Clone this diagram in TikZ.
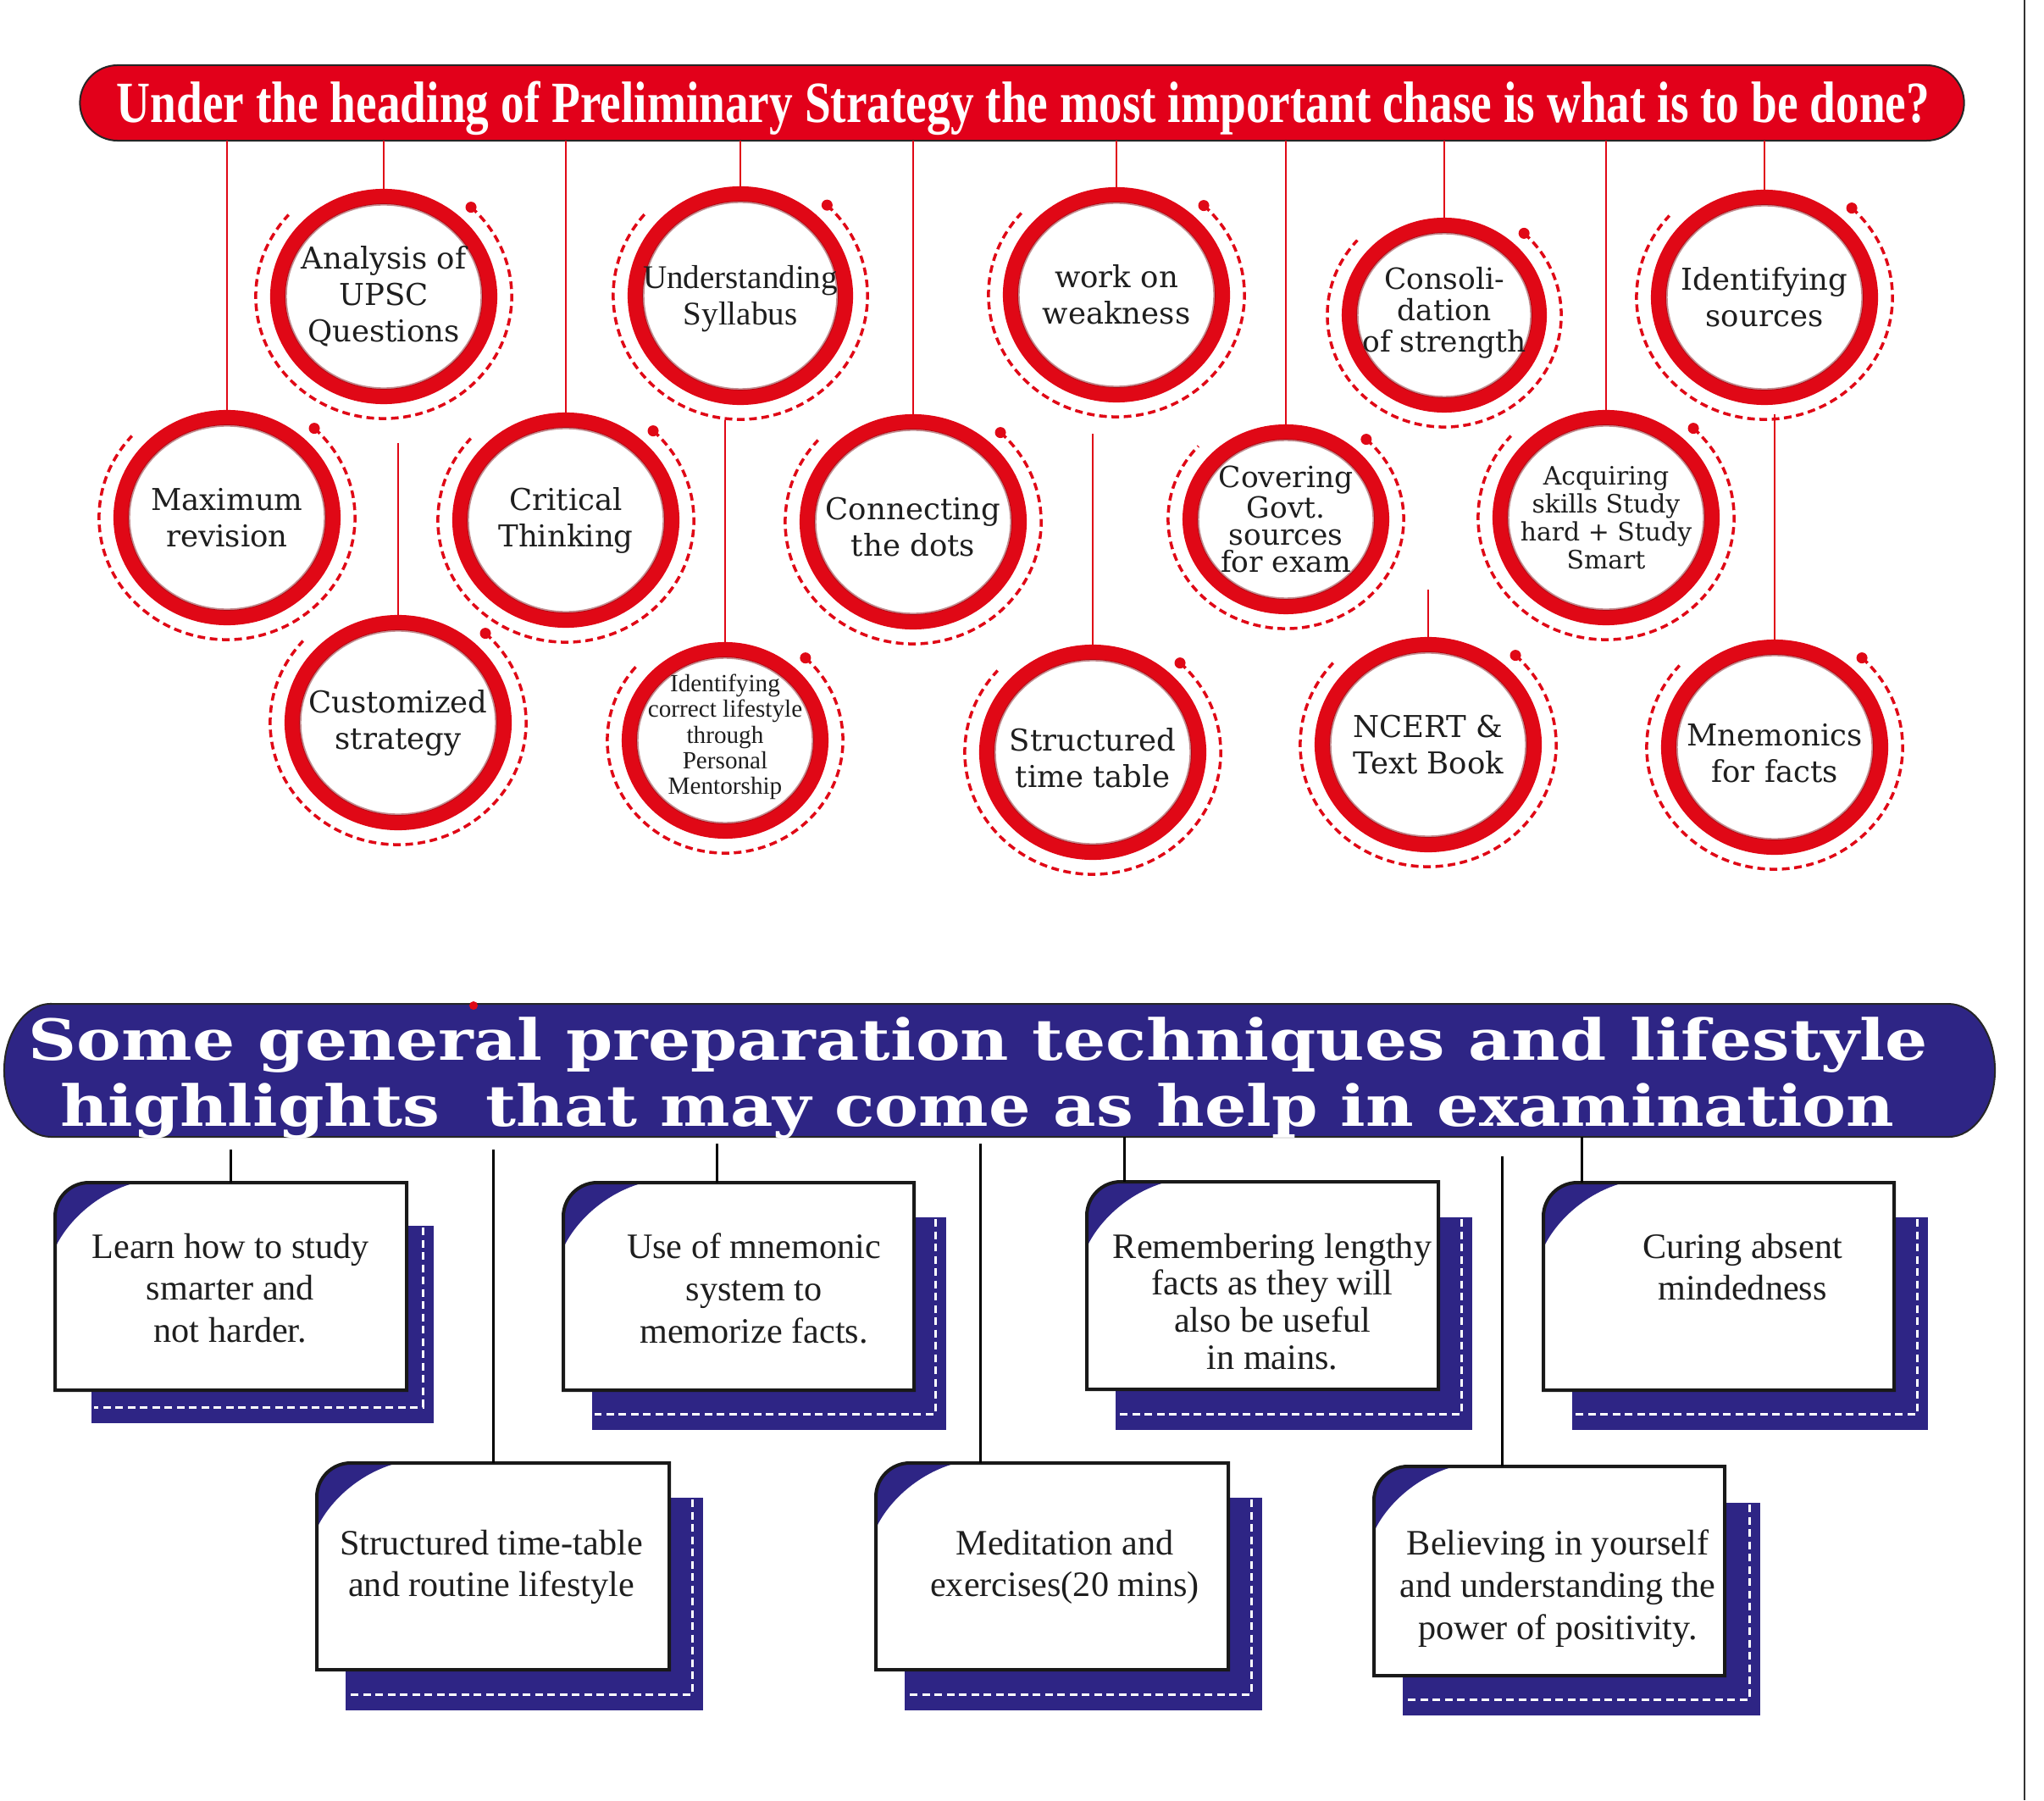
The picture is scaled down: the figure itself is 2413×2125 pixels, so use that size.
\documentclass[tikz,border=0pt]{standalone}
\usepackage{fontspec}
\usepackage{graphicx}
\usetikzlibrary{shapes.geometric,shapes.misc}
\newfontfamily\circF{DejaVu Serif}
\newfontfamily\narF{Liberation Serif}
\newfontfamily\hdF{Liberation Serif}
\newfontfamily\hdG{DejaVu Serif}
\definecolor{hdrred}{RGB}{226,0,26}
\definecolor{ringred}{RGB}{224,8,22}
\definecolor{navyc}{RGB}{46,37,133}
\definecolor{textc}{RGB}{30,30,30}
\tikzset{
 ringnode/.style={ellipse, draw=ringred, fill=white, line width=0.18cm, inner sep=0pt, outer sep=0pt},
 ringshade/.style={draw=ringred!55!black, line width=0.025cm, opacity=0.45},
 dashring/.style={draw=ringred, line width=0.035cm, dash pattern=on 0.09cm off 0.055cm},
 redline/.style={draw=ringred, line width=0.025cm},
 blkline/.style={draw=black, line width=0.03cm},
 ctext/.style={align=center, text=textc, inner sep=0pt, font={\circF\fontsize{10.1pt}{12.2pt}\selectfont}},
 ntext/.style={align=center, text=textc, inner sep=0pt, font={\narF\fontsize{11.1pt}{12.2pt}\selectfont}},
 cardnode/.style={rectangle, inner sep=0pt, outer sep=0pt, draw=none},
 cardline/.style={draw=black!90, line width=0.04cm, line join=miter},
 wdash/.style={draw=white, line width=0.03cm, dash pattern=on 0.09cm off 0.055cm},
 cardtext/.style={align=center, text=textc, inner sep=0pt, anchor=north, font={\narF\fontsize{12pt}{14.2pt}\selectfont}},
}
% name, x, y, outer rx (cm), outer ry (cm), text style, text
\newcommand\ringc[7]{%
  \pgfmathsetlengthmacro\ringmw{2*#4cm-0.18cm}%
  \pgfmathsetlengthmacro\ringmh{2*#5cm-0.18cm}%
  \pgfmathsetlengthmacro\ringrxd{#4cm+0.17cm}%
  \pgfmathsetlengthmacro\ringryd{#5cm+0.17cm}%
  \pgfmathsetlengthmacro\ringrxi{#4cm-0.185cm}%
  \pgfmathsetlengthmacro\ringryi{#5cm-0.185cm}%
  \node[ringnode, minimum width=\ringmw, minimum height=\ringmh] (#1) at (#2,-#3) {};
  \draw[ringshade] (#1.center) ellipse [x radius=\ringrxi, y radius=\ringryi];
  \draw[dashring] (#1.center) ++(47:{\ringrxd} and {\ringryd}) arc [start angle=47, end angle=-222, x radius=\ringrxd, y radius=\ringryd];
  \fill[ringred] (#1.center) ++(47:{\ringrxd} and {\ringryd}) circle [radius=0.065cm];
  \node[#6] (#1-t) at (#1.center) {#7};
}
% name, white l,t,r,b ; navy l,t,r,b
\newcommand\card[9]{%
  \fill[navyc] (#6,-#7) rectangle (#8,-#9);
  \draw[wdash] ({#8-13},{-#7-2}) -- ({#8-13},{-#9+19}) -- ({#6+3},{-#9+19});
  \pgfmathsetlengthmacro\cardw{(#4-#2)*0.01cm}%
  \pgfmathsetlengthmacro\cardh{(#5-#3)*0.01cm}%
  \node[cardnode, minimum width=\cardw, minimum height=\cardh, anchor=north west] (#1) at (#2,-#3) {};
  \fill[white] (#1.south west) -- (#1.south east) -- (#1.north east) -- ([xshift=0.4cm]#1.north west) arc [start angle=90, end angle=180, radius=0.4cm] -- cycle;
  \fill[navyc] ([xshift=0.95cm]#1.north west) -- ([xshift=0.4cm]#1.north west) arc [start angle=90, end angle=180, radius=0.4cm] -- ([yshift=-0.77cm]#1.north west) .. controls ([xshift=0.15cm,yshift=-0.45cm]#1.north west) and ([xshift=0.5cm,yshift=-0.12cm]#1.north west) .. ([xshift=0.95cm]#1.north west) -- cycle;
  \draw[cardline] (#1.south west) -- (#1.south east) -- (#1.north east) -- ([xshift=0.4cm]#1.north west) arc [start angle=90, end angle=180, radius=0.4cm] -- cycle;
}
\begin{document}
\begin{tikzpicture}[x=0.01cm, y=0.01cm]
\useasboundingbox (0,0) rectangle (2413,-2125);
\fill[white] (0,0) rectangle (2413,-2125);

% ---------- top header ----------
\node[rounded rectangle, fill=hdrred, draw=black!85, line width=0.02cm, minimum width=22.23cm, minimum height=0.89cm, inner sep=0pt, outer sep=0pt] (hdr1) at (1206.5,-121.5) {};
\node[anchor=base, text=white, inner sep=0pt, font={\hdF\bfseries\fontsize{19.6pt}{22pt}\selectfont}] (hdr1-t) at (1208,-145) {\resizebox{21.39cm}{\height}{Under the heading of Preliminary Strategy the most important chase is what is to be done?}};

% ---------- circles ----------
\ringc{c1}{453}{350}{1.34}{1.27}{ctext}{Analysis of\\UPSC\\Questions}
\ringc{c2}{874}{349}{1.33}{1.29}{ntext, yshift=-0.04cm}{Understanding\\Syllabus}
\ringc{c3}{1318}{348}{1.34}{1.27}{ctext}{work on\\weakness}
\ringc{c4}{1705}{372}{1.21}{1.15}{ctext, yshift=0.03cm, font={\circF\fontsize{9.8pt}{10.5pt}\selectfont}}{Consoli-\\dation\\of strength}
\ringc{c5}{2083}{351}{1.34}{1.27}{ctext}{Identifying\\sources}
\ringc{c6}{268}{611}{1.34}{1.27}{ctext}{Maximum\\revision}
\ringc{c7}{668}{614}{1.34}{1.27}{ctext}{Critical\\Thinking}
\ringc{c8}{1078}{616}{1.34}{1.27}{ctext, yshift=-0.06cm}{Connecting\\the dots}
\ringc{c9}{1518}{613}{1.22}{1.12}{ctext, font={\circF\fontsize{9.8pt}{9.1pt}\selectfont}}{Covering\\Govt.\\sources\\for exam}
\ringc{c10}{1896}{611}{1.34}{1.27}{ctext, font={\circF\fontsize{8.5pt}{9.4pt}\selectfont}}{Acquiring\\skills Study\\hard + Study\\Smart}
\ringc{c11}{470}{853}{1.34}{1.27}{ctext}{Customized\\strategy}
\ringc{c12}{856}{874}{1.22}{1.16}{ntext, yshift=0.04cm, font={\narF\fontsize{8.3pt}{8.6pt}\selectfont}}{Identifying\\correct lifestyle\\through\\Personal\\Mentorship}
\ringc{c13}{1290}{888}{1.34}{1.27}{ctext, yshift=-0.07cm}{Structured\\time table}
\ringc{c14}{1686}{879}{1.34}{1.27}{ctext}{NCERT \&\\Text Book}
\ringc{c15}{2095}{882}{1.34}{1.27}{ctext, yshift=-0.07cm}{Mnemonics\\for facts}

% ---------- red connectors ----------
\foreach \c in {c1,c2,c3,c4,c5,c6,c7,c8,c9,c10}
  \draw[redline] (hdr1.south -| \c.north) -- (\c.north);
\coordinate (f11) at (470,-523);
\coordinate (f12) at (856,-496);
\coordinate (f13) at (1290,-512);
\coordinate (f14) at (1686,-696);
\coordinate (f15) at (2095,-489);
\draw[redline] (f11) -- (c11.north);
\draw[redline] (f12) -- (c12.north);
\draw[redline] (f13) -- (c13.north);
\draw[redline] (f14) -- (c14.north);
\draw[redline] (f15) -- (c15.north);

% ---------- bottom header ----------
\path[fill=navyc, draw=black!85, line width=0.02cm] (60,-1185) -- (2300,-1185) arc [start angle=90, end angle=-90, x radius=0.55cm, y radius=0.785cm] -- (60,-1342) arc [start angle=270, end angle=90, x radius=0.55cm, y radius=0.785cm] -- cycle;
\node[cardnode, minimum width=23.5cm, minimum height=1.57cm] (hdr2) at (1180,-1263.5) {};
\fill[ringred] (559,-1187) circle [radius=0.05cm];
\node[anchor=base, text=white, inner sep=0pt, font={\hdG\bfseries\fontsize{19pt}{22pt}\selectfont}] (hdr2-a) at (1155,-1251) {\resizebox{22.41cm}{\height}{Some general preparation techniques and lifestyle}};
\node[anchor=base, text=white, inner sep=0pt, font={\hdG\bfseries\fontsize{19pt}{22pt}\selectfont}] (hdr2-b) at (1154,-1329) {\resizebox{21.64cm}{\height}{highlights\ \ that may come as help in examination}};

% ---------- cards ----------
\card{b1}{65}{1396}{480}{1641}{108}{1447}{512}{1680}
\card{b2}{665}{1396}{1079}{1641}{699}{1437}{1117}{1688}
\card{b3}{1283}{1395}{1698}{1640}{1317}{1437}{1738}{1688}
\card{b4}{1822}{1396}{2236}{1641}{1856}{1437}{2276}{1688}
\card{b5}{374}{1727}{790}{1971}{408}{1768}{830}{2019}
\card{b6}{1034}{1727}{1450}{1971}{1068}{1768}{1490}{2019}
\card{b7}{1622}{1731}{2036}{1978}{1656}{1774}{2078}{2025}

\node[cardtext] (b1-t) at (272,-1455) {Learn how to study\\smarter and\\not harder.};
\node[cardtext] (b2-t) at (890,-1455) {Use of mnemonic\\system to\\memorize facts.};
\node[cardtext, font={\narF\fontsize{12pt}{12.5pt}\selectfont}] (b3-t) at (1502,-1455) {Remembering lengthy\\facts as they will\\also be useful\\in mains.};
\node[cardtext] (b4-t) at (2057,-1455) {Curing absent\\mindedness};
\node[cardtext] (b5-t) at (580,-1805) {Structured time-table\\and routine lifestyle};
\node[cardtext] (b6-t) at (1257,-1805) {Meditation and\\exercises(20 mins)};
\node[cardtext] (b7-t) at (1839,-1805) {Believing in yourself\\and understanding the\\power of positivity.};

% ---------- black connectors ----------
\coordinate (s1) at (272,-1357);
\coordinate (s5) at (582,-1357);
\coordinate (s2) at (846,-1350);
\coordinate (s6) at (1157,-1350);
\coordinate (s3) at (hdr2.south -| 1327,0);
\coordinate (s7) at (1773,-1365);
\coordinate (s4) at (hdr2.south -| 1867,0);
\draw[blkline] (s1) -- (s1 |- b1.north);
\draw[blkline] (s5) -- (s5 |- b5.north);
\draw[blkline] (s2) -- (s2 |- b2.north);
\draw[blkline] (s6) -- (s6 |- b6.north);
\draw[blkline] (s3) -- (s3 |- b3.north);
\draw[blkline] (s7) -- (s7 |- b7.north);
\draw[blkline] (s4) -- (s4 |- b4.north);

% ---------- right edge rule ----------
\draw[line width=0.025cm, black!80] (2390,0) -- (2390,-2125);
\end{tikzpicture}
\end{document}
